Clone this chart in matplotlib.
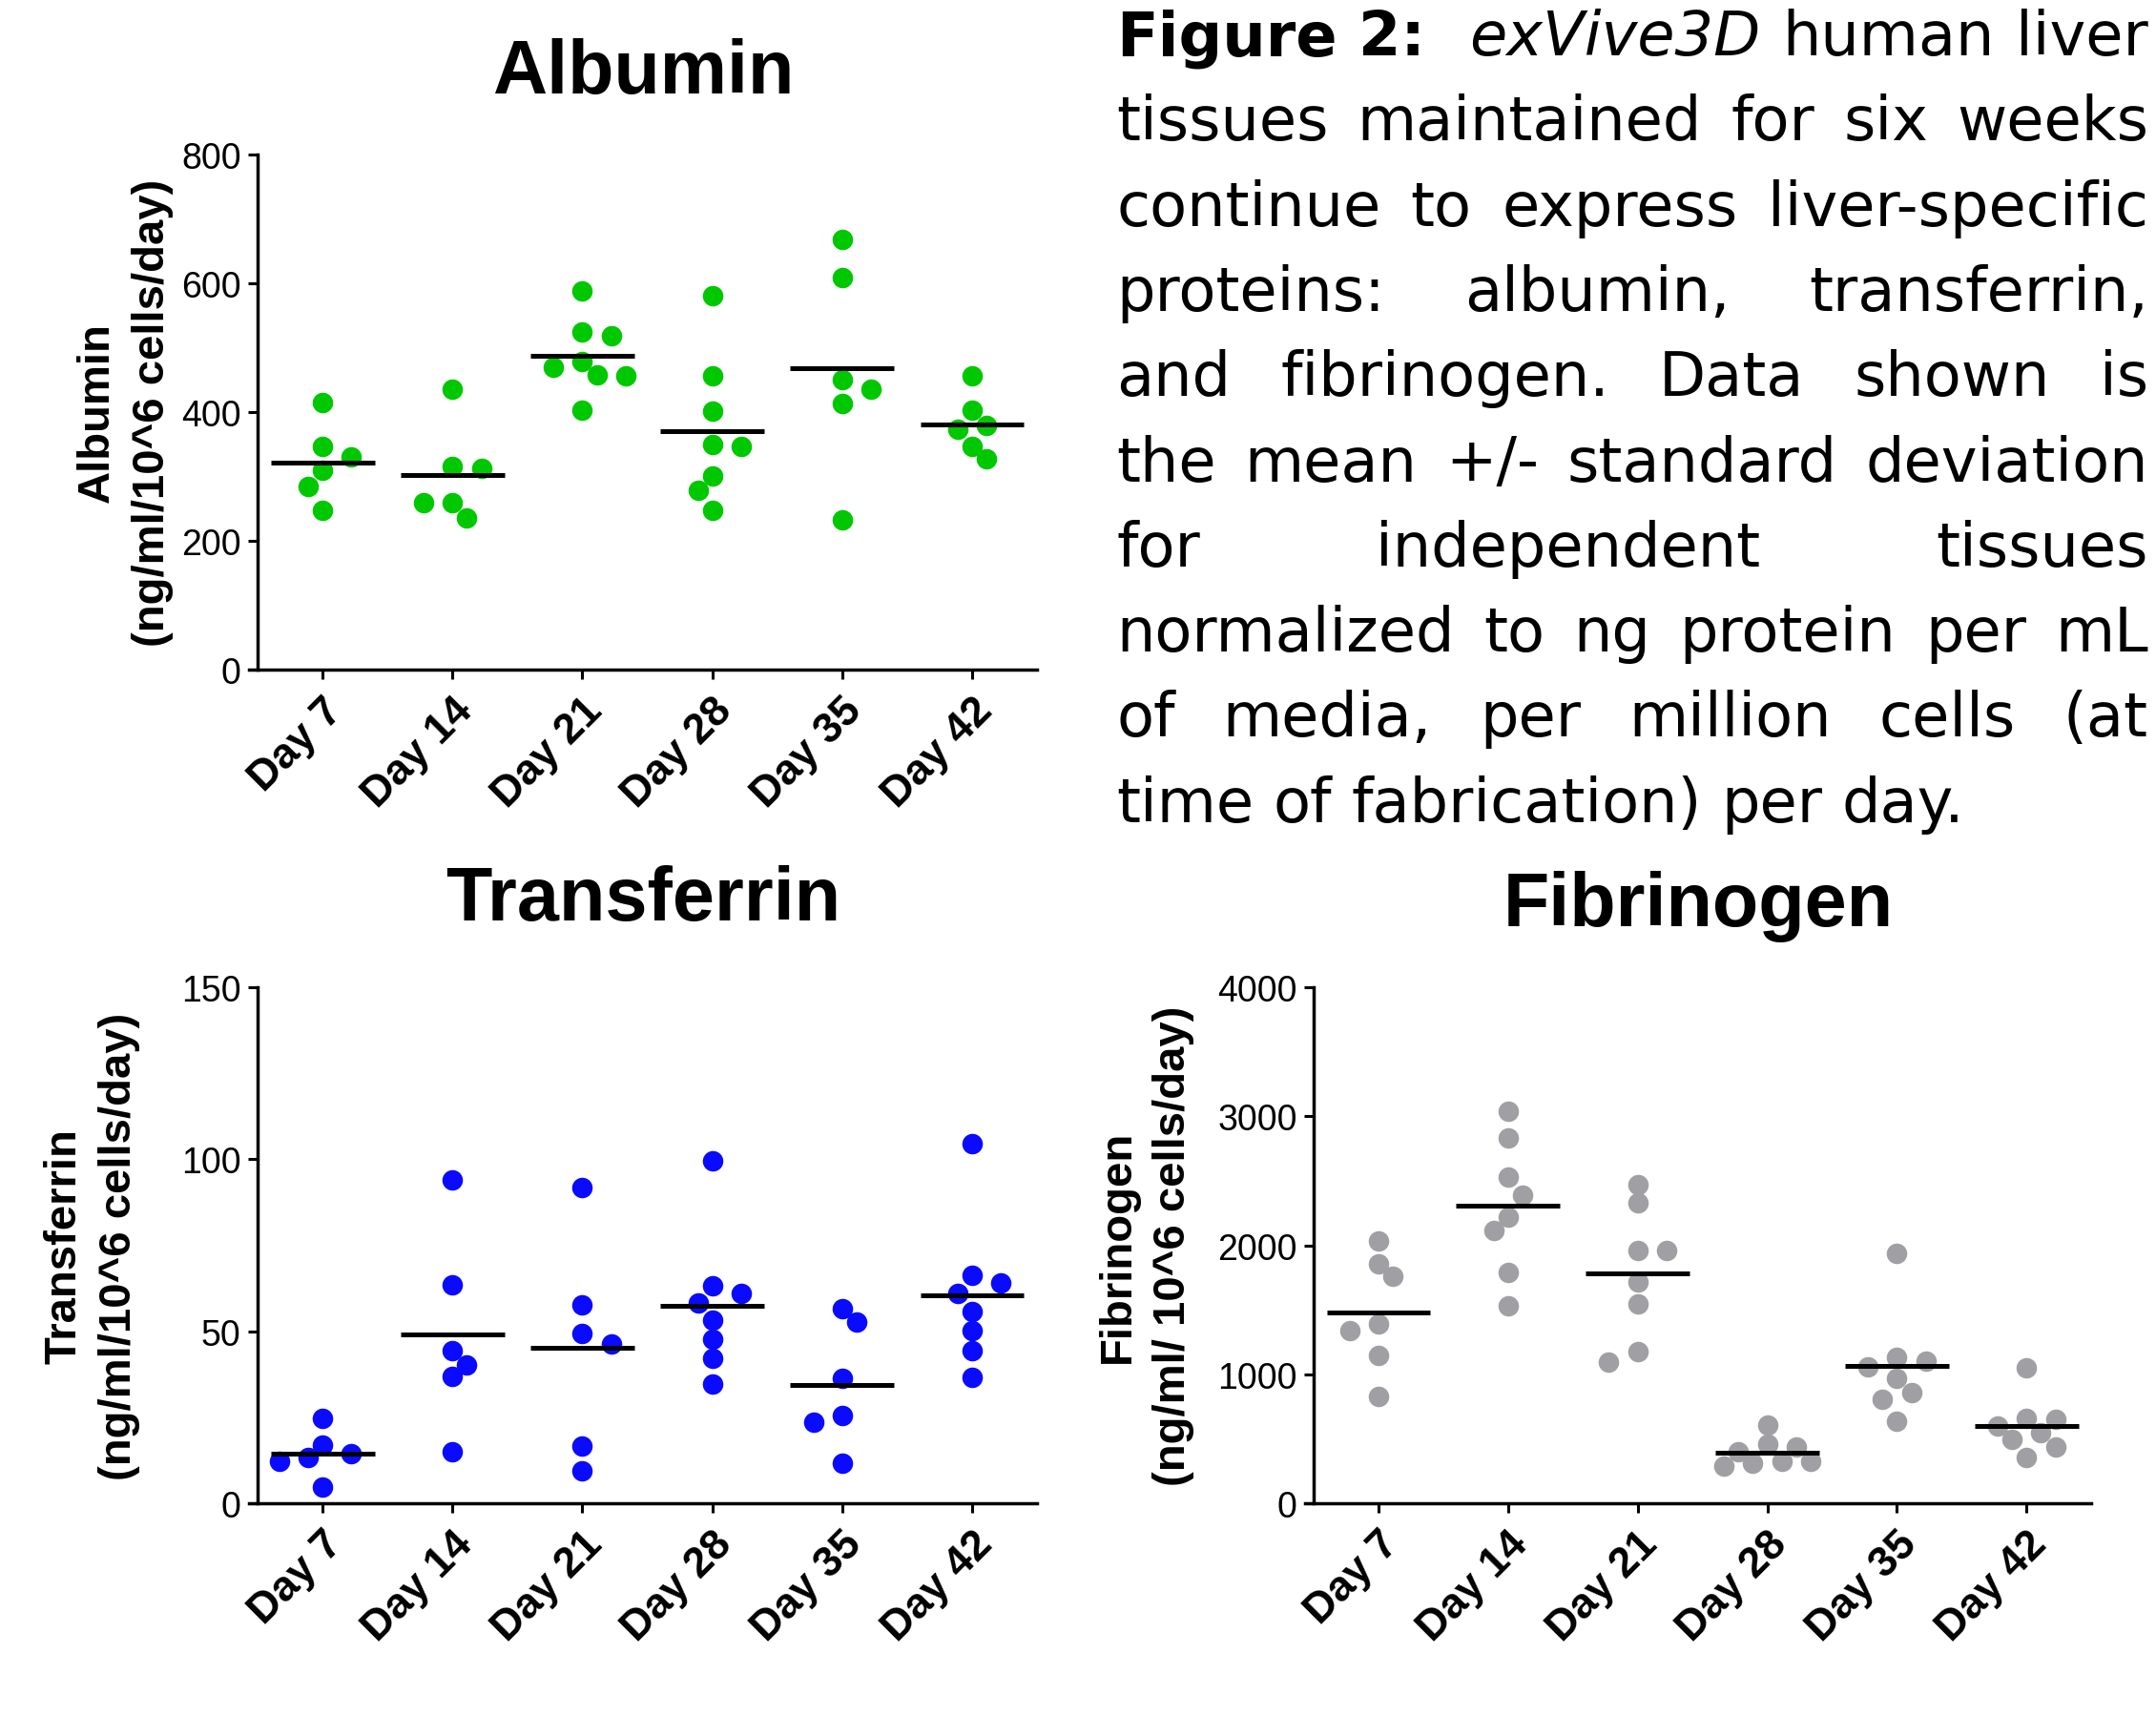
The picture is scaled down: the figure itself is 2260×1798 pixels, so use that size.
import re
import numpy as np
import matplotlib
matplotlib.use("Agg")
import matplotlib.pyplot as plt
import matplotlib.transforms as mtransforms

W, H = 2260, 1799
plt.rcParams['font.family'] = ['Liberation Sans', 'DejaVu Sans']

days = ["Day 7", "Day 14", "Day 21", "Day 28", "Day 35", "Day 42"]

# values, one list per day
albumin = [
    [415, 346, 330, 309, 284, 248],
    [436, 316, 312, 260, 259, 235],
    [588, 524, 519, 479, 470, 458, 457, 403],
    [581, 457, 401, 350, 347, 301, 279, 247],
    [668, 609, 451, 436, 413, 232],
    [456, 403, 380, 373, 346, 327],
]
transferrin = [
    [24.6, 16.9, 14.4, 13.3, 12.3, 4.6],
    [94.0, 63.5, 44.5, 40.2, 37.0, 15.0],
    [91.8, 57.6, 49.3, 46.4, 16.5, 9.3],
    [99.5, 63.2, 60.9, 58.2, 53.2, 47.8, 42.2, 34.7],
    [56.6, 52.8, 36.3, 25.4, 23.5, 11.7],
    [104.6, 66.2, 64.1, 61.1, 55.7, 50.2, 44.3, 36.5],
]
fibrinogen = [
    [2030, 1859, 1759, 1389, 1338, 1147, 831],
    [3041, 2830, 2528, 2391, 2215, 2115, 1788, 1532],
    [2471, 2326, 1959, 1959, 1717, 1546, 1176, 1096],
    [603, 455, 433, 398, 327, 285, 313, 327],
    [1936, 1132, 1103, 1054, 968, 860, 803, 635],
    [1048, 660, 649, 598, 547, 498, 436, 356],
]

caption = [
    "Figure 2:  exVive3D human liver",
    "tissues maintained for six weeks",
    "continue to express liver-specific",
    "proteins: albumin, transferrin,",
    "and fibrinogen. Data shown is",
    "the mean +/- standard deviation",
    "for independent tissues",
    "normalized to ng protein per mL",
    "of media, per million cells (at",
    "time of fabrication) per day.",
]
bold_words = ["Figure", "2:"]
italic_words = ["exVive3D"]

fig = plt.figure(figsize=(W / 100, H / 100), dpi=100)

dot_px = 21
x_lo, x_hi = -0.566, 5.5


def swarm(ax, vals):
    # simple beeswarm in pixel space, returns x offsets in data units
    bb = ax.get_window_extent()
    y0, y1 = ax.get_ylim()
    ppu = bb.height / (y1 - y0)
    unit = bb.width / (x_hi - x_lo)
    step = dot_px * 0.72
    placed = []
    offs = [0.0] * len(vals)
    total = 0.0
    for i in sorted(range(len(vals)), key=lambda j: -vals[j]):
        y = vals[i] * ppu
        k = 0
        while True:
            if k == 0:
                cands = [0.0]
            elif total > 0:
                cands = [-k * step, k * step]
            else:
                cands = [k * step, -k * step]
            ok = None
            for c in cands:
                if all((c - px) ** 2 + (y - py) ** 2 >= (dot_px * 0.9) ** 2 for px, py in placed):
                    ok = c
                    break
            if ok is not None:
                break
            k += 1
        placed.append((ok, y))
        total += ok
        offs[i] = ok / unit
    return offs


def panel(rect, data, color, ymax, yticks, title, ylabel, label_x, title_pad):
    ax = fig.add_axes(rect)
    ax.set_xlim(x_lo, x_hi)
    ax.set_ylim(0, ymax)
    ax.spines['left'].set_position(('data', -0.5))
    for i, vals in enumerate(data):
        offs = swarm(ax, vals)
        ax.plot([i + o for o in offs], vals, 'o', color=color, ms=15.5,
                mec='none', clip_on=False, zorder=3)
        m = np.mean(vals)
        ax.plot([i - 0.4, i + 0.4], [m, m], color='black', lw=3.6,
                solid_capstyle='butt', zorder=4)
    ax.set_yticks(yticks)
    ax.set_yticklabels([str(t) for t in yticks], fontsize=27)
    ax.set_xticks(range(len(days)))
    ax.set_xticklabels(days, fontsize=32, fontweight='bold', rotation=45,
                       ha='right', va='top', rotation_mode='anchor')
    shift = mtransforms.ScaledTranslation(5 / 100, 0, fig.dpi_scale_trans)
    for lab in ax.get_xticklabels():
        lab.set_transform(lab.get_transform() + shift)
    for s in ['top', 'right']:
        ax.spines[s].set_visible(False)
    for s in ['left', 'bottom']:
        ax.spines[s].set_linewidth(2.5)
    ax.tick_params(axis='y', length=7.5, width=2.2, pad=5)
    ax.tick_params(axis='x', length=7.5, width=2.2, pad=8)
    ax.set_title(title, fontsize=57, fontweight='bold', pad=title_pad)
    ax.set_ylabel(ylabel, fontsize=34, fontweight='bold', linespacing=1.4)
    ax.yaxis.set_label_coords(label_x, 0.5)
    return ax


# axes start 9 px left of the y axis so the x axis overhangs a little
panel([0.1155, 0.6092, 0.3655, 0.3002], albumin, '#00c800', 800,
      [0, 200, 400, 600, 800], "Albumin",
      "Albumin\n(ng/ml/10^6 cells/day)", -0.096, 47)
panel([0.1155, 0.1234, 0.3655, 0.3007], transferrin, '#0a0aff', 150,
      [0, 50, 100, 150], "Transferrin",
      "Transferrin\n(ng/ml/10^6 cells/day)", -0.138, 51)
panel([0.6053, 0.1234, 0.3647, 0.3007], fibrinogen, '#a0a0a4', 4000,
      [0, 1000, 2000, 3000, 4000], "Fibrinogen",
      "Fibrinogen\n(ng/ml/ 10^6 cells/day)", -0.141, 47)

# justified caption block
renderer = fig.canvas.get_renderer()
left_px, right_px = 1170, 2252
base0, line_dy = 58, 89.3
cap_size = 46
for n, line in enumerate(caption):
    parts = re.split(r'( +)', line)
    words = parts[0::2]
    weights = [len(s) for s in parts[1::2]]
    y = 1 - (base0 + n * line_dy) / H
    texts = []
    for w in words:
        weight = 'bold' if w in bold_words else 'normal'
        style = 'italic' if w in italic_words else 'normal'
        t = fig.text(0, y, w, fontsize=cap_size, family='DejaVu Sans',
                     fontweight=weight, fontstyle=style, va='baseline', ha='left')
        texts.append(t)
    widths = [t.get_window_extent(renderer).width for t in texts]
    if n == len(caption) - 1:
        space = fig.text(0, 0, "a a", fontsize=cap_size, family='DejaVu Sans')
        sp = space.get_window_extent(renderer).width
        space.remove()
        a = fig.text(0, 0, "aa", fontsize=cap_size, family='DejaVu Sans')
        sp -= a.get_window_extent(renderer).width
        a.remove()
        gaps = [sp * k for k in weights]
    else:
        g = (right_px - left_px - sum(widths)) / sum(weights)
        gaps = [g * k for k in weights]
    x = left_px
    for i, t in enumerate(texts):
        t.set_x(x / W)
        x += widths[i]
        if i < len(gaps):
            x += gaps[i]

fig.savefig("out.png", dpi=100)
